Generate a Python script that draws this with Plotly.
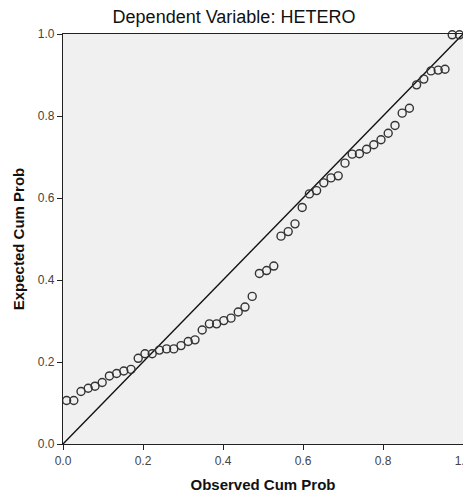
import plotly.graph_objects as go

# Observed cumulative probability (x) and expected cumulative probability (y)
observed_cum_prob = [
    0.009, 0.027, 0.045, 0.063, 0.080, 0.098, 0.116, 0.134, 0.152, 0.170,
    0.188, 0.205, 0.223, 0.241, 0.259, 0.277, 0.295, 0.313, 0.330, 0.348,
    0.366, 0.384, 0.402, 0.420, 0.438, 0.455, 0.473, 0.491, 0.509, 0.527,
    0.545, 0.563, 0.580, 0.598, 0.616, 0.634, 0.652, 0.670, 0.688, 0.705,
    0.723, 0.741, 0.759, 0.777, 0.795, 0.813, 0.830, 0.848, 0.866, 0.884,
    0.902, 0.920, 0.938, 0.955, 0.973, 0.991,
]
expected_cum_prob = [
    0.106, 0.106, 0.128, 0.136, 0.141, 0.150, 0.166, 0.172, 0.178, 0.182,
    0.209, 0.220, 0.220, 0.229, 0.232, 0.232, 0.240, 0.250, 0.254, 0.278,
    0.293, 0.293, 0.301, 0.307, 0.322, 0.334, 0.360, 0.416, 0.423, 0.434,
    0.507, 0.518, 0.537, 0.577, 0.610, 0.618, 0.637, 0.649, 0.654, 0.685,
    0.707, 0.708, 0.719, 0.730, 0.742, 0.758, 0.777, 0.807, 0.819, 0.876,
    0.890, 0.910, 0.912, 0.914, 0.998, 0.998,
]
reference_line = [0.0, 1.0]
tick_values = [0.0, 0.2, 0.4, 0.6, 0.8, 1.0]
tick_labels = ["0.0", "0.2", "0.4", "0.6", "0.8", "1.0"]

FONT = "Liberation Sans, Arial, sans-serif"

fig = go.Figure()
fig.add_trace(go.Scatter(
    x=reference_line, y=reference_line, mode="lines",
    line=dict(color="#111111", width=1.4),
    hoverinfo="skip", showlegend=False,
))
fig.add_trace(go.Scatter(
    x=observed_cum_prob, y=expected_cum_prob, mode="markers",
    marker=dict(symbol="circle-open", size=8, color="#333333",
                line=dict(width=1.4, color="#333333")),
    cliponaxis=False, showlegend=False,
))

axis_common = dict(
    range=[0, 1], tickvals=tick_values, ticktext=tick_labels,
    ticks="outside", ticklen=5, tickwidth=1, tickcolor="#222222",
    showgrid=False, zeroline=False, automargin=False,
    ticklabeloverflow="allow",
    showline=True, linecolor="#222222", linewidth=1.2, mirror=True,
    tickfont=dict(family=FONT, size=12, color="#444444"),
)

# page body has an 8px margin, so the figure is 8px smaller than the window
W, H = 463, 485
fig.update_layout(
    width=W, height=H,
    margin=dict(l=55, r=8, t=26, b=49, autoexpand=False),
    paper_bgcolor="white", plot_bgcolor="#f0f0f0",
    title=dict(text="Dependent Variable: HETERO", x=226 / W, xanchor="center",
               xref="container", y=1 - 9 / H, yref="container", yanchor="middle",
               automargin=False,
               font=dict(family=FONT, size=18, color="#111111")),
    xaxis=dict(**axis_common,
               title=dict(text="<b>Observed Cum Prob</b>", standoff=16,
                          font=dict(family=FONT, size=15, color="#111111"))),
    yaxis=dict(**axis_common,
               title=dict(text="<b>Expected Cum Prob</b>", standoff=9,
                          font=dict(family=FONT, size=15, color="#111111"))),
)

fig.write_html("out.html")
